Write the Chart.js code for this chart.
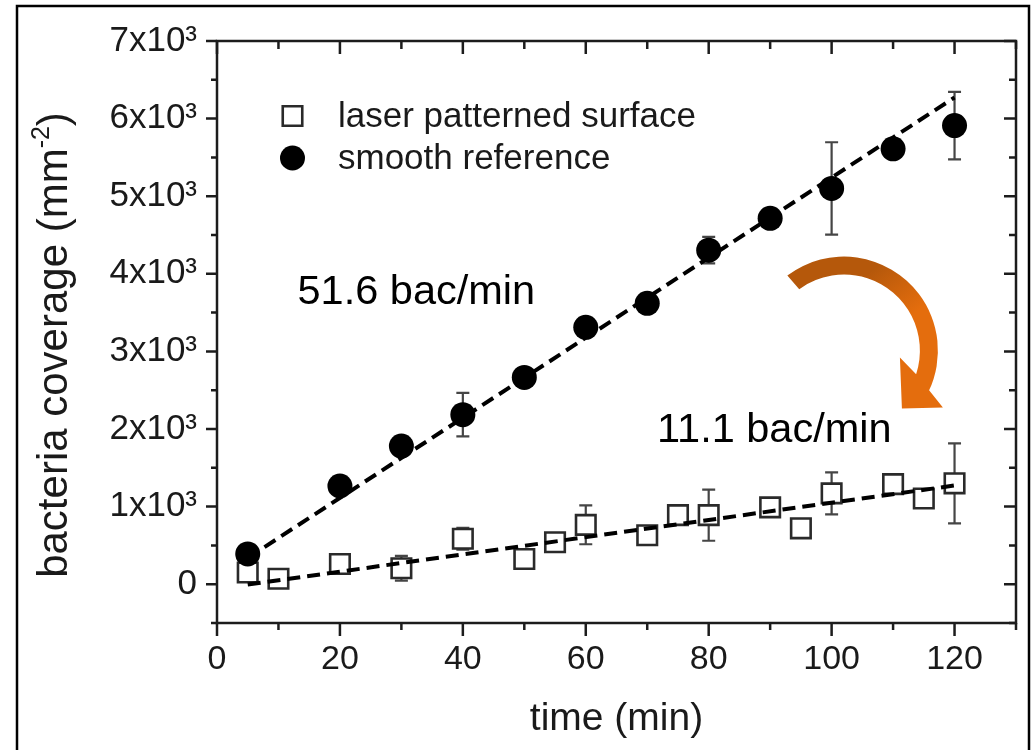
<!DOCTYPE html>
<html>
<head>
<meta charset="utf-8">
<script src="https://cdn.jsdelivr.net/npm/chart.js@4.4.1/dist/chart.umd.min.js"></script>
<style>
  html, body { margin: 0; padding: 0; background: #fff; }
  #wrap { position: relative; width: 1033px; height: 750px; }
</style>
</head>
<body>
<div id="wrap"><canvas id="c" width="1033" height="750"></canvas></div>
<script>
const FONT = "'Liberation Sans', Arial, Helvetica, sans-serif";

// Laser patterned surface: time (min), coverage (bacteria per mm²), error
const laserTimes  = [5, 10, 20, 30, 40, 50, 55, 60, 70, 75, 80, 90, 95, 100, 110, 115, 120];
const laserValues = [150, 70, 260, 205, 585, 325, 540, 765, 630, 890, 890, 990, 720, 1170, 1290, 1105, 1300];
const laserErrors = [0, 0, 0, 160, 140, 0, 0, 250, 0, 0, 330, 0, 0, 270, 0, 0, 515];

// Smooth reference surface
const smoothTimes  = [5, 20, 30, 40, 50, 60, 70, 80, 90, 100, 110, 120];
const smoothValues = [390, 1265, 1780, 2185, 2665, 3310, 3620, 4305, 4715, 5100, 5610, 5910];
const smoothErrors = [0, 0, 0, 280, 0, 0, 0, 170, 0, 595, 0, 435];

// Linear fits (slope in bac/min, intercept in bac/mm²) over the measured span
const fitSlopes     = [11.1, 51.6];
const fitIntercepts = [-60, 80];
const fitSpan       = [5, 120];

// Axis ticks
const xTickValues = [0, 20, 40, 60, 80, 100, 120];
const yTickValues = [0, 1000, 2000, 3000, 4000, 5000, 6000, 7000];
const yTickLabels = ['0', '1x10³', '2x10³', '3x10³', '4x10³', '5x10³', '6x10³', '7x10³'];

const seriesLabels = ['laser patterned surface', 'smooth reference'];
const xTitle = 'time (min)';
const yTitleParts = ['bacteria coverage (mm', '-2', ')'];

const toPoints = (ts, vs) => ts.map((t, i) => ({ x: t, y: vs[i] }));
const fitPoints = i => fitSpan.map(t => ({ x: t, y: fitIntercepts[i] + fitSlopes[i] * t }));

// Error bars with caps, drawn beneath the symbols
const errorBars = {
  id: 'errorBars',
  beforeDatasetsDraw(chart) {
    const { ctx, scales: { x, y } } = chart;
    ctx.save();
    ctx.strokeStyle = '#454545';
    ctx.lineWidth = 2.2;
    [[laserTimes, laserValues, laserErrors], [smoothTimes, smoothValues, smoothErrors]].forEach(([ts, vs, es]) => {
      ts.forEach((t, i) => {
        if (!es[i]) return;
        const px = x.getPixelForValue(t);
        const top = y.getPixelForValue(vs[i] + es[i]);
        const bot = y.getPixelForValue(vs[i] - es[i]);
        ctx.beginPath();
        ctx.moveTo(px, top); ctx.lineTo(px, bot);
        ctx.moveTo(px - 6.5, top); ctx.lineTo(px + 6.5, top);
        ctx.moveTo(px - 6.5, bot); ctx.lineTo(px + 6.5, bot);
        ctx.stroke();
      });
    });
    ctx.restore();
  }
};

// Plot box with outward ticks on left/bottom, inward ticks on right/top, plus the outer border
const frame = {
  id: 'frame',
  beforeDatasetsDraw(chart) {
    const { ctx, chartArea: a, scales: { x, y } } = chart;
    ctx.save();
    ctx.strokeStyle = '#1c1c1c';
    ctx.lineWidth = 2.5;
    ctx.strokeRect(a.left, a.top, a.right - a.left, a.bottom - a.top);
    ctx.beginPath();
    for (let v = y.min; v <= y.max; v += 500) {
      const py = y.getPixelForValue(v);
      const major = v % 1000 === 0;
      ctx.moveTo(a.left, py);  ctx.lineTo(a.left - (major ? 11 : 6), py);
      ctx.moveTo(a.right, py); ctx.lineTo(a.right - (major ? 12 : 7), py);
    }
    for (let t = x.min; t <= x.max; t += 10) {
      const px = x.getPixelForValue(t);
      const major = t % 20 === 0;
      ctx.moveTo(px, a.bottom); ctx.lineTo(px, a.bottom + (major ? 13 : 7));
      ctx.moveTo(px, a.top);    ctx.lineTo(px, a.top + (major ? 13 : 8));
    }
    ctx.stroke();
    ctx.strokeStyle = '#000';
    ctx.lineWidth = 2.5;
    ctx.strokeRect(17, 6, 1012, 760);
    ctx.restore();
  }
};

// Legend, y-axis title, slope labels and the curved arrow
const decorations = {
  id: 'decorations',
  afterDatasetsDraw(chart) {
    const { ctx, chartArea: a, scales: { x, y } } = chart;
    ctx.save();

    // legend
    const markers = chart.data.datasets.filter(d => d.type === 'scatter');
    markers.forEach((ds, i) => {
      const cx = a.left + 75.5, cy = a.top + 75 + i * 42;
      ctx.save();
      ctx.fillStyle = ds.backgroundColor;
      ctx.strokeStyle = ds.borderColor;
      ctx.lineWidth = ds.borderWidth;
      Chart.helpers.drawPoint(ctx, { pointStyle: ds.pointStyle, radius: ds.legendRadius, borderWidth: ds.borderWidth, rotation: 0 }, cx, cy);
      ctx.restore();
      ctx.fillStyle = '#1a1a1a';
      ctx.font = `35px ${FONT}`;
      ctx.textBaseline = 'alphabetic';
      ctx.textAlign = 'left';
      ctx.fillText(ds.label, a.left + 121, a.top + 86 + i * 42);
    });

    // y-axis title with superscript
    ctx.save();
    const mainFont = `42px ${FONT}`, supFont = `25px ${FONT}`;
    ctx.font = mainFont; const w0 = ctx.measureText(yTitleParts[0]).width;
    ctx.font = supFont;  const w1 = ctx.measureText(yTitleParts[1]).width;
    ctx.font = mainFont; const w2 = ctx.measureText(yTitleParts[2]).width;
    const total = w0 + w1 + w2;
    ctx.translate(67, (a.top + a.bottom) / 2 + 13);
    ctx.rotate(-Math.PI / 2);
    ctx.fillStyle = '#1a1a1a';
    ctx.textAlign = 'left';
    ctx.textBaseline = 'alphabetic';
    let cx = -total / 2;
    ctx.font = mainFont; ctx.fillText(yTitleParts[0], cx, 0); cx += w0;
    ctx.font = supFont;  ctx.fillText(yTitleParts[1], cx, -18); cx += w1;
    ctx.font = mainFont; ctx.fillText(yTitleParts[2], cx, 0);
    ctx.restore();

    // slope labels
    ctx.fillStyle = '#000';
    ctx.font = `41.5px ${FONT}`;
    ctx.textAlign = 'left';
    ctx.textBaseline = 'alphabetic';
    ctx.fillText(`${fitSlopes[1]} bac/min`, x.getPixelForValue(13.1), y.getPixelForValue(3615));
    ctx.fillText(`${fitSlopes[0]} bac/min`, x.getPixelForValue(71.6), y.getPixelForValue(1830));

    // curved arrow from the steep fit toward the shallow one
    const ax = x.getPixelForValue(102), ay = y.getPixelForValue(3010);
    const deg = d => d * Math.PI / 180;
    const grad = ctx.createLinearGradient(ax + 30, ay - 82, ax + 68, ay - 35);
    grad.addColorStop(0, '#b5580b');
    grad.addColorStop(1, '#e46d0d');
    ctx.fillStyle = grad;
    ctx.beginPath();
    ctx.arc(ax, ay, 94, deg(-127), deg(25), false);
    ctx.lineTo(ax + 99, ay + 57);
    ctx.lineTo(ax + 58, ay + 58);
    ctx.lineTo(ax + 56, ay + 7);
    ctx.lineTo(ax + 72, ay + 23.5);
    ctx.arc(ax, ay, 76, deg(18), deg(-126), true);
    ctx.closePath();
    ctx.fill();

    ctx.restore();
  }
};

const dashed = { borderColor: '#000', borderWidth: 4, borderDash: [13, 7], pointRadius: 0, fill: false, order: 0 };

new Chart(document.getElementById('c'), {
  data: {
    datasets: [
      { type: 'line', label: 'fit laser', data: fitPoints(0), ...dashed },
      { type: 'line', label: 'fit smooth', data: fitPoints(1), ...dashed },
      {
        type: 'scatter', label: seriesLabels[0], data: toPoints(laserTimes, laserValues),
        pointStyle: 'rect', pointRadius: 13.8, legendRadius: 13.8,
        backgroundColor: '#ffffff', borderColor: '#2a2a2a', borderWidth: 2.6, order: 2
      },
      {
        type: 'scatter', label: seriesLabels[1], data: toPoints(smoothTimes, smoothValues),
        pointStyle: 'circle', pointRadius: 12.5, legendRadius: 12.5,
        backgroundColor: '#000000', borderColor: '#000000', borderWidth: 0, order: 1
      }
    ]
  },
  options: {
    responsive: false,
    animation: false,
    devicePixelRatio: 1,
    events: [],
    layout: { padding: { left: 0, top: 39, right: 17, bottom: 0 } },
    plugins: { legend: { display: false }, tooltip: { enabled: false } },
    scales: {
      x: {
        type: 'linear', min: 0, max: 130,
        afterBuildTicks: s => { s.ticks = xTickValues.map(v => ({ value: v })); },
        afterFit: s => { s.height = 127; },
        grid: { display: false, drawTicks: false },
        border: { display: false },
        ticks: { font: { family: FONT, size: 34 }, color: '#1a1a1a', padding: 16, maxRotation: 0, autoSkip: false },
        title: { display: true, text: xTitle, font: { family: FONT, size: 39 }, color: '#1a1a1a', padding: { top: 0, bottom: 7 } }
      },
      y: {
        type: 'linear', min: -500, max: 7000,
        afterBuildTicks: s => { s.ticks = yTickValues.map(v => ({ value: v })); },
        afterFit: s => { s.width = 217; },
        grid: { display: false, drawTicks: false },
        border: { display: false },
        ticks: {
          font: { family: FONT, size: 35 }, color: '#1a1a1a', padding: 20, autoSkip: false,
          callback: v => yTickLabels[yTickValues.indexOf(v)]
        },
        title: { display: false }
      }
    }
  },
  plugins: [frame, errorBars, decorations]
});
</script>
</body>
</html>
